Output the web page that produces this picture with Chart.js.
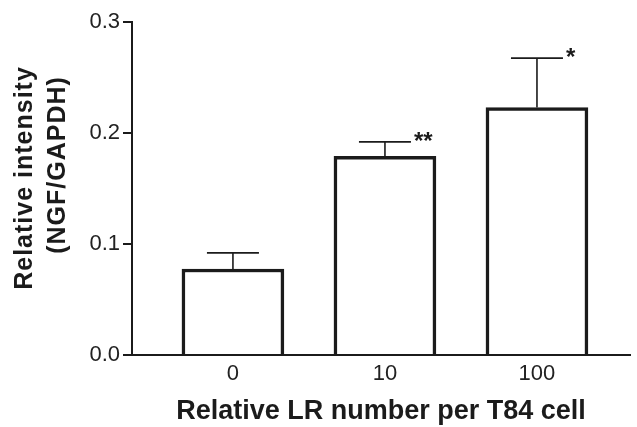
<!DOCTYPE html>
<html lang="en">
<head>
<meta charset="UTF-8">
<title>NGF / GAPDH relative intensity</title>
<script src="https://cdn.jsdelivr.net/npm/chart.js"></script>
<style>
  html, body { margin: 0; padding: 0; background: #fff; }
  #wrap { width: 637px; height: 427px; }
</style>
</head>
<body>
<div id="wrap"><canvas id="ngfChart"></canvas></div>
<script>
// values
const categories = ["0", "10", "100"];
const intensity = [0.0775, 0.179, 0.223];
const errUp = [0.0145, 0.013, 0.0445];
const signif = ["", "**", "*"];
const yTitle = ["Relative intensity", "(NGF/GAPDH)"];
const xTitle = "Relative LR number per T84 cell";

const ink = "#1b1b1b";
const fontName = "'Liberation Sans', Arial, sans-serif";

// error bars (upper only) + significance stars, placed through the scales
const errorBars = {
    id: "errorBars",
    afterDatasetsDraw(chart) {
        const ctx = chart.ctx;
        const xs = chart.scales.x, ys = chart.scales.y;
        ctx.save();
        ctx.strokeStyle = ink;
        ctx.lineWidth = 1.6;
        intensity.forEach((v, i) => {
            const cx = xs.getPixelForValue(i);
            const yTop = ys.getPixelForValue(v);
            const yCap = ys.getPixelForValue(v + errUp[i]);
            ctx.beginPath();
            ctx.moveTo(cx, yTop);
            ctx.lineTo(cx, yCap);
            ctx.moveTo(cx - 26, yCap);
            ctx.lineTo(cx + 26, yCap);
            ctx.stroke();
            if (signif[i]) {
                ctx.fillStyle = ink;
                ctx.font = "bold 24px " + fontName;
                ctx.textAlign = "left";
                ctx.textBaseline = "alphabetic";
                ctx.fillText(signif[i], cx + 29, yCap + 7);
            }
        });
        ctx.restore();
    }
};

// two-line rotated y title, each line centred on its own
const yTitlePlugin = {
    id: "yTitlePlugin",
    afterDraw(chart) {
        const ctx = chart.ctx;
        ctx.save();
        ctx.fillStyle = ink;
        ctx.font = "bold 25px " + fontName;
        ctx.letterSpacing = "1px";
        ctx.textAlign = "center";
        ctx.textBaseline = "middle";
        const spots = [[25, 178], [58, 165]];
        yTitle.forEach((t, i) => {
            ctx.save();
            ctx.translate(spots[i][0], spots[i][1]);
            ctx.rotate(-Math.PI / 2);
            ctx.fillText(t, 0, 0);
            ctx.restore();
        });
        ctx.restore();
    }
};

new Chart(document.getElementById("ngfChart"), {
    type: "bar",
    data: {
        datasets: [{
            data: intensity.map((v, i) => ({ x: i, y: v })),
            backgroundColor: "#ffffff",
            borderColor: ink,
            borderWidth: 3.5,
            barThickness: 102
        }]
    },
    options: {
        responsive: true,
        maintainAspectRatio: false,
        animation: false,
        layout: { padding: { top: 22, right: 7, bottom: 0, left: 0 } },
        plugins: {
            legend: { display: false },
            tooltip: { enabled: false }
        },
        scales: {
            x: {
                type: "linear",
                offset: false,
                min: -0.664,
                max: 2.612,
                afterBuildTicks: s => { s.ticks = categories.map((c, i) => ({ value: i })); },
                afterFit: s => { s.height = 72; },
                grid: { display: false },
                border: { display: true, color: ink, width: 2 },
                ticks: {
                    padding: -2,
                    color: "#222",
                    font: { family: fontName, size: 22 },
                    callback: v => categories[v]
                },
                title: {
                    display: true,
                    text: xTitle,
                    color: ink,
                    font: { family: fontName, size: 27, weight: "bold" },
                    padding: { top: 0, bottom: -1 }
                }
            },
            y: {
                min: 0,
                max: 0.3,
                afterFit: s => { s.width = 132; },
                grid: {
                    drawOnChartArea: false,
                    drawTicks: true,
                    tickLength: 9,
                    color: ink,
                    lineWidth: 2
                },
                border: { display: true, color: ink, width: 2 },
                ticks: {
                    stepSize: 0.1,
                    padding: 3,
                    color: "#222",
                    font: { family: fontName, size: 22 },
                    callback: v => v.toFixed(1)
                }
            }
        }
    },
    plugins: [errorBars, yTitlePlugin]
});
</script>
</body>
</html>
